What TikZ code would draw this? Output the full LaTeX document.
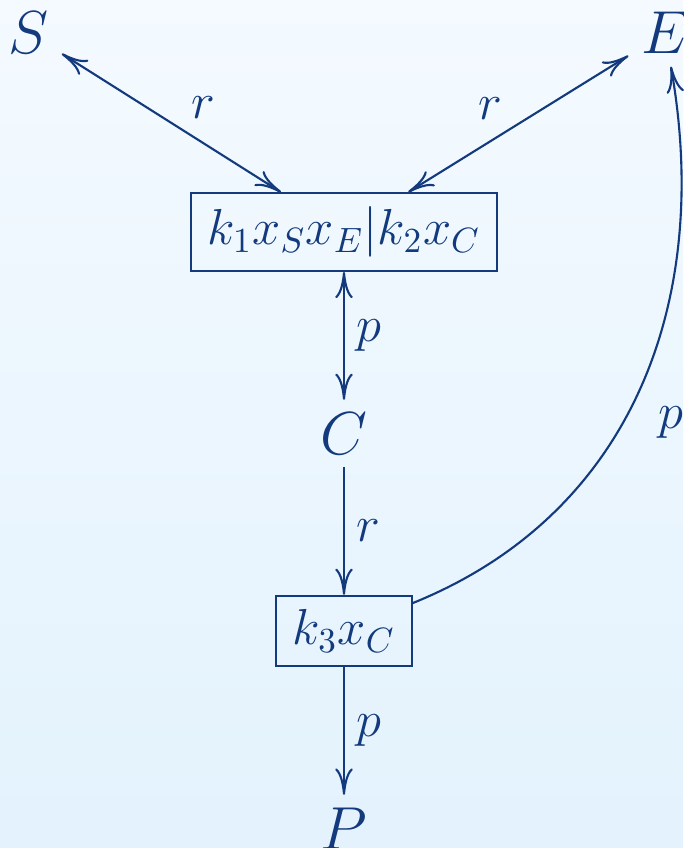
\documentclass[tikz,border=0pt]{standalone}
\usepackage{amsmath}
\usetikzlibrary{arrows.meta,positioning}
\definecolor{ink}{RGB}{18,58,125}
\definecolor{bgtop}{RGB}{244,250,255}
\definecolor{bgbot}{RGB}{227,242,253}
\tikzset{
  >={To[length=7.5pt,width=5pt]},
  spec/.style = {inner sep=0.3333em, font=\fontsize{16.5}{20}\selectfont},
  rxn/.style  = {draw, inner xsep=0.165cm, inner ysep=0.135cm, font=\fontsize{13.9}{17}\selectfont},
  lab/.style  = {inner sep=0.3333em, font=\fontsize{13.9}{17}\selectfont}
}

\begin{document}
\begin{tikzpicture}[node distance=1.28cm, color=ink, line width=0.6pt]
\fill[top color=bgtop, bottom color=bgbot] (0,0) rectangle (6.83,-8.48);
\useasboundingbox (0,0) rectangle (6.83,-8.48);

\node[spec] (S) at (0.29,-0.33) {$S$};
\node[spec] (E) at (6.65,-0.33) {$E$};
\node[rxn] (R1) at (3.44,-2.32) {$k_1x_Sx_E|k_2x_C$};
\node[spec, below=of R1] (C) {$C$};
\node[rxn, below=of C] (R2) {$k_3x_C$};
\node[spec, below=of R2] (P) {$P$};

\draw[<->] (S) -- node[lab, above right, xshift=0.07cm, yshift=-0.08cm] {$r$} (R1);
\draw[<->] (E) -- node[lab, above left, xshift=-0.03cm, yshift=-0.08cm] {$r$} (R1);
\draw[<->] (R1) -- node[lab, right] {$p$} (C);
\draw[->] (C) -- node[lab, right] {$r$} (R2);
\draw[->] (R2) -- node[lab, right] {$p$} (P);
\draw[->] (R2) to[out=22, in=-80, looseness=1.02] node[lab, right, pos=0.44, xshift=0.22cm] {$p$} (E);
\end{tikzpicture}
\end{document}
